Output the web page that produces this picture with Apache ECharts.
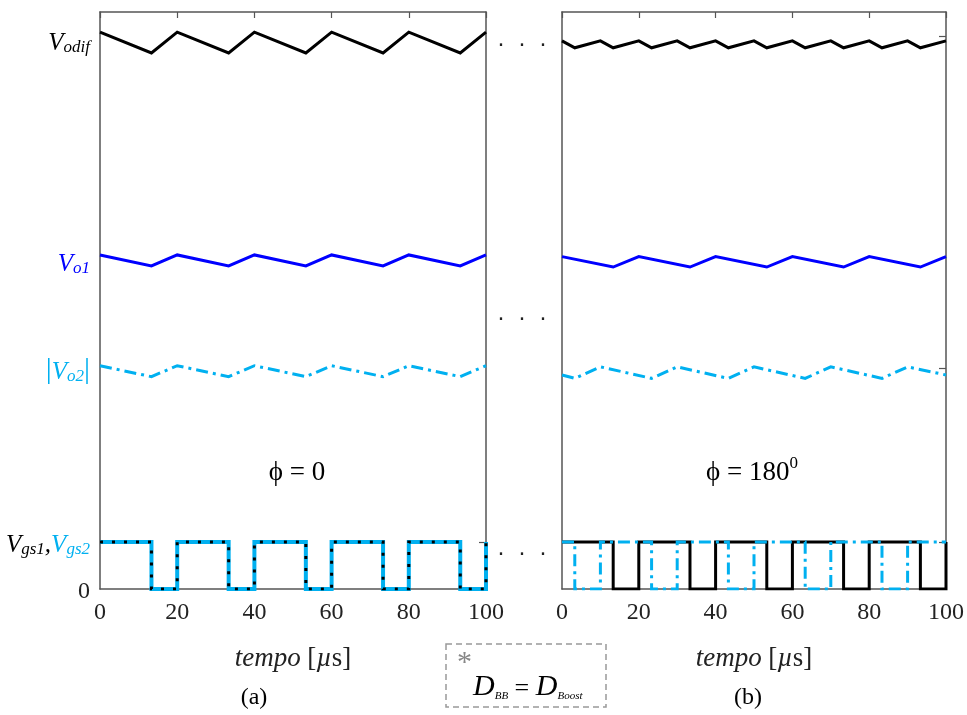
<!DOCTYPE html>
<html>
<head>
<meta charset="utf-8">
<script src="https://cdn.jsdelivr.net/npm/echarts@6/dist/echarts.min.js"></script>
<style>html,body{margin:0;padding:0;background:#fff}#c{width:967px;height:715px}</style>
</head>
<body>
<div id="c"></div>
<script>
// ---- data (y in arbitrary units 0..100) ----
const xTicks = [0, 20, 40, 60, 80, 100];
// panel (a), phi = 0
const tA = [0, 13.33, 20, 33.33, 40, 53.33, 60, 73.33, 80, 93.33, 100];
const vodifA = [96.5, 92.9, 96.5, 92.9, 96.5, 92.9, 96.5, 92.9, 96.5, 92.9, 96.5];
const vo1A = [57.9, 56.0, 57.9, 56.0, 57.9, 56.0, 57.9, 56.0, 57.9, 56.0, 57.9];
const vo2A = [38.7, 36.8, 38.7, 36.8, 38.7, 36.8, 38.7, 36.8, 38.7, 36.8, 38.7];
const vgs1A = [8.15, 0, 8.15, 0, 8.15, 0, 8.15, 0, 8.15, 0, 8.15];
const vgs2A = [8.15, 0, 8.15, 0, 8.15, 0, 8.15, 0, 8.15, 0, 8.15];
// panel (b), phi = 180
const tB1 = [0, 13.33, 20, 33.33, 40, 53.33, 60, 73.33, 80, 93.33, 100];
const vo1B = [57.6, 55.8, 57.6, 55.8, 57.6, 55.8, 57.6, 55.8, 57.6, 55.8, 57.6];
const vgs1B = [8.15, 0, 8.15, 0, 8.15, 0, 8.15, 0, 8.15, 0, 8.15];
const tB2 = [0, 3.33, 10, 23.33, 30, 43.33, 50, 63.33, 70, 83.33, 90, 100];
const vo2B = [37.1, 36.5, 38.5, 36.5, 38.5, 36.5, 38.5, 36.5, 38.5, 36.5, 38.5, 37.1];
const vgs2B = [8.15, 0, 8.15, 0, 8.15, 0, 8.15, 0, 8.15, 0, 8.15, 8.15];
const tBd = [0, 3.33, 10, 13.33, 20, 23.33, 30, 33.33, 40, 43.33, 50, 53.33, 60, 63.33, 70, 73.33, 80, 83.33, 90, 93.33, 100];
const vodifB = [95.0, 93.8, 95.0, 93.8, 95.0, 93.8, 95.0, 93.8, 95.0, 93.8, 95.0, 93.8, 95.0, 93.8, 95.0, 93.8, 95.0, 93.8, 95.0, 93.8, 95.0];
// y tick label positions (panel a) and right-side tick marks
const yLabelVals = [0, 8.0, 38.0, 56.7, 95.0];
const yLabelText = ['0', 'Vgs', 'Vo2', 'Vo1', 'Vodif'];
const rightTicksA = [8.15];
const rightTicksB = [8.15, 38.3, 95.8];

const zip = (t, v) => t.map((x, i) => [x, v[i]]);
const SERIF = 'Liberation Serif';
const C_BLUE = '#0000ff', C_LB = '#00b0f0', AX = '#555555';

function xAx(grid, pos) {
  const bottom = pos === 'bottom';
  return {
    type: 'value', gridIndex: grid, position: pos, min: 0, max: 100, interval: 20,
    axisLine: { show: true, onZero: false, lineStyle: { color: AX, width: 1.5 } },
    axisTick: { show: !bottom, inside: true, length: 6, lineStyle: { color: AX, width: 1.2 } },
    axisLabel: { show: bottom, margin: 12, fontFamily: SERIF, fontSize: 24, color: '#222' },
    splitLine: { show: false },
    name: bottom ? '{i|tempo}  {r|[}{i|µ}{r|s]}' : '',
    nameLocation: 'middle', nameGap: 56,
    nameTextStyle: { rich: {
      i: { fontFamily: SERIF, fontStyle: 'italic', fontSize: 27, color: '#222' },
      r: { fontFamily: SERIF, fontSize: 27, color: '#222' } } }
  };
}
function yAx(grid, pos, ticks, labels) {
  return {
    type: 'value', gridIndex: grid, position: pos, min: 0, max: 100,
    axisLine: { show: true, onZero: false, lineStyle: { color: AX, width: 1.5 } },
    axisTick: { show: !!ticks, inside: true, length: 7, customValues: ticks || [], lineStyle: { color: AX, width: 1.2 } },
    axisLabel: labels ? {
      show: true, margin: 10, customValues: yLabelVals,
      formatter: function (v) {
        const i = yLabelVals.indexOf(v);
        const k = yLabelText[i];
        if (k === '0') return '{n|0}';
        if (k === 'Vodif') return '{v|V}{s|odif}';
        if (k === 'Vo1') return '{vb|V}{sb|o1}';
        if (k === 'Vo2') return '{lb||}{vl|V}{sl|o2}{lb||}';
        if (k === 'Vgs') return '{v|V}{s|gs1}{v|,}{vl|V}{sl|gs2}';
        return '';
      },
      rich: {
        n: { fontFamily: SERIF, fontSize: 24, color: '#222', padding: [6, 0, 0, 0] },
        v: { fontFamily: SERIF, fontStyle: 'italic', fontSize: 25, color: '#000', verticalAlign: 'bottom', lineHeight: 30 },
        s: { fontFamily: SERIF, fontStyle: 'italic', fontSize: 17, color: '#000', verticalAlign: 'bottom', lineHeight: 22 },
        vb: { fontFamily: SERIF, fontStyle: 'italic', fontSize: 25, color: C_BLUE, verticalAlign: 'bottom', lineHeight: 30 },
        sb: { fontFamily: SERIF, fontStyle: 'italic', fontSize: 17, color: C_BLUE, verticalAlign: 'bottom', lineHeight: 22 },
        vl: { fontFamily: SERIF, fontStyle: 'italic', fontSize: 25, color: C_LB, verticalAlign: 'bottom', lineHeight: 30 },
        sl: { fontFamily: SERIF, fontStyle: 'italic', fontSize: 17, color: C_LB, verticalAlign: 'bottom', lineHeight: 22 },
        lb: { fontFamily: SERIF, fontSize: 30, color: C_LB, verticalAlign: 'bottom', lineHeight: 30 }
      }
    } : { show: false },
    splitLine: { show: false }
  };
}
function line(x, y, data, color, width, type, step, z) {
  return {
    type: 'line', xAxisIndex: x, yAxisIndex: y, data: data, symbol: 'none',
    step: step || false, z: z || 2, animation: false, clip: true,
    lineStyle: { color: color, width: width, type: type || 'solid', cap: 'butt', join: 'miter' }
  };
}
const DASHDOT = [12, 5, 3, 5];

const chart = echarts.init(document.getElementById('c'), null, { renderer: 'canvas' });
chart.setOption({
  backgroundColor: '#fff',
  animation: false,
  grid: [
    { left: 100, right: 481, top: 12, bottom: 126 },
    { left: 562, right: 19, top: 12, bottom: 126 }
  ],
  xAxis: [xAx(0, 'bottom'), xAx(0, 'top'), xAx(1, 'bottom'), xAx(1, 'top')],
  yAxis: [yAx(0, 'left', null, true), yAx(0, 'right', rightTicksA, false),
          yAx(1, 'left', null, false), yAx(1, 'right', rightTicksB, false)],
  series: [
    line(0, 0, zip(tA, vodifA), '#000', 3),
    line(0, 0, zip(tA, vo1A), C_BLUE, 3),
    line(0, 0, zip(tA, vo2A), C_LB, 3, DASHDOT),
    line(0, 0, zip(tA, vgs2A), C_LB, 4, 'solid', 'end', 2),
    line(0, 0, zip(tA, vgs1A), '#000', 3, [3, 9], 'end', 3),
    line(2, 2, zip(tBd, vodifB), '#000', 3),
    line(2, 2, zip(tB1, vo1B), C_BLUE, 3),
    line(2, 2, zip(tB2, vo2B), C_LB, 3, DASHDOT),
    line(2, 2, zip(tB1, vgs1B), '#000', 3, 'solid', 'end', 2),
    line(2, 2, zip(tB2, vgs2B), C_LB, 3, DASHDOT, 'end', 3)
  ],
  graphic: [
    { type: 'text', x: 297, y: 473, style: { text: 'ϕ = 0', font: '27px "Liberation Serif"', fill: '#000', align: 'center', verticalAlign: 'middle' } },
    { type: 'text', x: 752, y: 473, style: {
      text: '{a|ϕ = 180}{b|0}', align: 'center', verticalAlign: 'middle',
      rich: { a: { fontFamily: SERIF, fontSize: 27, color: '#000' },
              b: { fontFamily: SERIF, fontSize: 17, color: '#000', verticalAlign: 'top', lineHeight: 36 } } } },
    { type: 'text', x: 254, y: 698, style: { text: '(a)', font: '24px "Liberation Serif"', fill: '#000', align: 'center', verticalAlign: 'middle' } },
    { type: 'text', x: 748, y: 698, style: { text: '(b)', font: '24px "Liberation Serif"', fill: '#000', align: 'center', verticalAlign: 'middle' } },
    { type: 'text', x: 522, y: 46, style: { text: '·  ·  ·', font: '22px "DejaVu Sans"', fill: '#222', align: 'center', verticalAlign: 'middle' } },
    { type: 'text', x: 522, y: 320, style: { text: '·  ·  ·', font: '22px "DejaVu Sans"', fill: '#222', align: 'center', verticalAlign: 'middle' } },
    { type: 'text', x: 522, y: 555, style: { text: '·  ·  ·', font: '22px "DejaVu Sans"', fill: '#222', align: 'center', verticalAlign: 'middle' } },
    { type: 'rect', shape: { x: 446, y: 644, width: 160, height: 63 },
      style: { fill: 'none', stroke: '#999', lineWidth: 1.5, lineDash: [6, 4] } },
    { type: 'text', x: 457, y: 648, style: { text: '*', font: '30px "Liberation Serif"', fill: '#888' } },
    { type: 'text', x: 473, y: 685, style: {
      text: '{d|D}{s|BB}{e| = }{d|D}{s|Boost}', verticalAlign: 'middle',
      rich: { d: { fontFamily: SERIF, fontStyle: 'italic', fontSize: 30, color: '#888', verticalAlign: 'bottom', lineHeight: 34 },
              s: { fontFamily: SERIF, fontStyle: 'italic', fontSize: 11, color: '#888', verticalAlign: 'bottom', lineHeight: 18 },
              e: { fontFamily: SERIF, fontSize: 26, color: '#888', verticalAlign: 'bottom', lineHeight: 32 } } } }
  ]
});
</script>
</body>
</html>
